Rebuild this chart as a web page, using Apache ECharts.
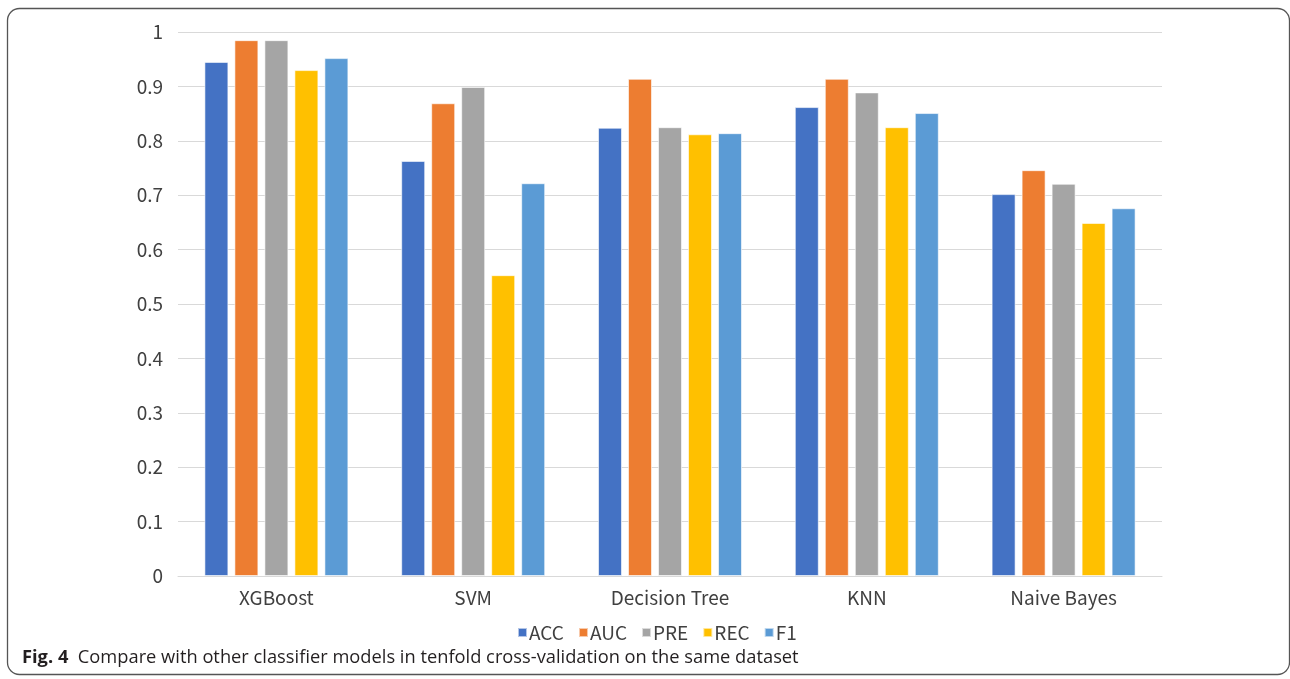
<!DOCTYPE html>
<html>
<head>
<meta charset="utf-8">
<script src="https://cdn.jsdelivr.net/npm/echarts@6/dist/echarts.min.js"></script>
<style>
  html, body { margin: 0; padding: 0; background: #fff; }
  #chart { width: 1290px; height: 679px; }
</style>
</head>
<body>
<div id="chart"></div>
<script>
// Classifier models compared on the same dataset
const categories = ['XGBoost', 'SVM', 'Decision Tree', 'KNN', 'Naive Bayes'];
const metricNames = ['ACC', 'AUC', 'PRE', 'REC', 'F1'];
const accValues = [0.945, 0.763, 0.824, 0.862, 0.702];
const aucValues = [0.985, 0.869, 0.914, 0.914, 0.746];
const preValues = [0.985, 0.899, 0.825, 0.889, 0.721];
const recValues = [0.930, 0.553, 0.812, 0.825, 0.649];
const f1Values  = [0.952, 0.722, 0.814, 0.851, 0.676];
const metricColors = ['#4472C4', '#ED7D31', '#A5A5A5', '#FFC000', '#5B9BD5'];

const seriesValues = [accValues, aucValues, preValues, recValues, f1Values];
const fontFamily = '"Noto Sans CJK SC", "Noto Sans", sans-serif';

const chart = echarts.init(document.getElementById('chart'));
chart.setOption({
  animation: false,
  backgroundColor: '#fff',
  grid: { left: 178, right: 128, top: 32, bottom: 103, containLabel: false },
  legend: {
    data: metricNames,
    left: 512,
    top: 618,
    itemWidth: 9,
    itemHeight: 9,
    itemGap: 14,
    icon: 'rect',
    textStyle: { fontFamily: fontFamily, fontSize: 19, color: '#404040', padding: [0, 0, 0, -3] }
  },
  xAxis: {
    type: 'category',
    data: categories,
    axisLine: { lineStyle: { color: '#d9d9d9', width: 1 } },
    axisTick: { show: false },
    axisLabel: { fontFamily: fontFamily, fontSize: 19, color: '#404040', margin: 12 }
  },
  yAxis: {
    type: 'value',
    min: 0,
    max: 1,
    interval: 0.1,
    axisLine: { show: false },
    axisTick: { show: false },
    splitLine: { lineStyle: { color: '#d9d9d9', width: 1 } },
    axisLabel: {
      fontFamily: fontFamily, fontSize: 19, color: '#404040', margin: 15,
      formatter: v => String(Math.round(v * 10) / 10)
    }
  },
  series: metricNames.map((name, i) => ({
    name: name,
    type: 'bar',
    data: seriesValues[i],
    barWidth: 24,
    barGap: '25%',
    itemStyle: { color: metricColors[i], borderColor: 'rgba(255,255,255,0.6)', borderWidth: 1 }
  })),
  graphic: [
    {
      type: 'rect',
      shape: { x: 7.5, y: 8.5, width: 1282, height: 666, r: 12 },
      style: { fill: 'none', stroke: '#555', lineWidth: 1.3 },
      silent: true
    },
    {
      type: 'text',
      left: 22,
      top: 649,
      style: {
        text: '{b|Fig. 4}  Compare with other classifier models in tenfold cross-validation on the same dataset',
        fontFamily: '"Open Sans", "Noto Sans", sans-serif',
        fontSize: 18.3,
        fill: '#231f20',
        rich: {
          b: { fontFamily: '"Open Sans", "Noto Sans", sans-serif', fontSize: 18.3, fontWeight: 'bold', fill: '#231f20' }
        }
      }
    }
  ]
});
</script>
</body>
</html>
